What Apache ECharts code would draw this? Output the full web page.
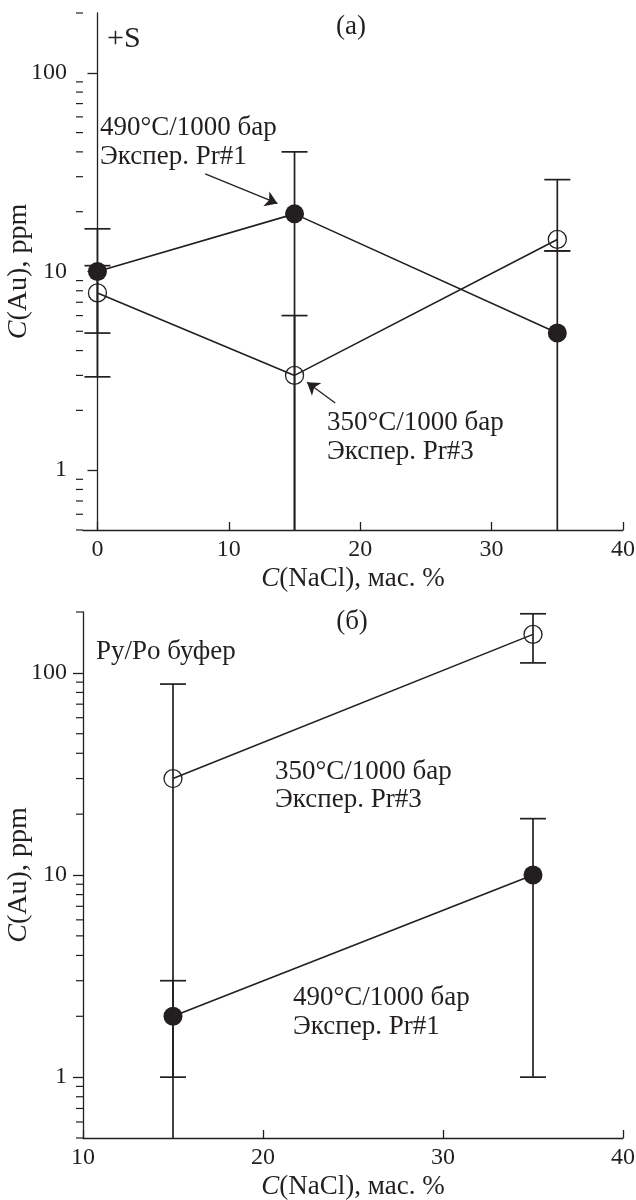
<!DOCTYPE html>
<html>
<head>
<meta charset="utf-8">
<script src="https://cdn.jsdelivr.net/npm/echarts@6/dist/echarts.min.js"></script>
<style>
  html, body { margin: 0; padding: 0; background: #fff; }
  #chart { width: 636px; height: 1200px; }
</style>
</head>
<body>
<div id="chart"></div>
<script>
// (а) +S
const naclA = [0, 15, 35];
const au490A = [10, 19.5, 4.9];
const au490ALow = [4.9, 0.1, 0.1];
const au490AHigh = [16.4, 40, 12.7];
const au350A = [7.8, 3, 14.5];
const au350ALow = [2.95, 0.1, 12.7];
const au350AHigh = [10.7, 6, 29];

// (б) Py/Po буфер
const naclB = [15, 35];
const au490B = [2, 10];
const au490BLow = [1, 1];
const au490BHigh = [3, 19];
const au350B = [30, 155];
const au350BLow = [0.1, 112];
const au350BHigh = [88, 196];

// малые деления лог. оси
const minorTicks = [0.5, 0.6, 0.7, 0.8, 0.9, 2, 3, 4, 5, 6, 7, 8, 9, 20, 30, 40, 50, 60, 70, 80, 90, 200];

const INK = '#231f20';
const FONT = '"Liberation Serif", "DejaVu Serif", serif';
const Y_MIN = 0.5;
const Y_MAX = 200;

function zip(xs, ys) {
  return xs.map((x, i) => [x, ys[i]]);
}
function errRows(xs, lo, hi) {
  return xs.map((x, i) => [x, lo[i], hi[i]]);
}

function errorBarItem(params, api) {
  const x = api.value(0);
  const lo = api.value(1);
  const hi = api.value(2);
  const cs = params.coordSys;
  const top = api.coord([x, hi]);
  let bot;
  let capBot = true;
  if (lo < Y_MIN) {
    bot = [top[0], cs.y + cs.height];
    capBot = false;
  } else {
    bot = api.coord([x, lo]);
  }
  const w = 13;
  const style = { stroke: INK, lineWidth: 1.7 };
  const children = [
    { type: 'line', shape: { x1: top[0], y1: top[1], x2: bot[0], y2: bot[1] }, style: style },
    { type: 'line', shape: { x1: top[0] - w, y1: top[1], x2: top[0] + w, y2: top[1] }, style: style }
  ];
  if (capBot) {
    children.push({ type: 'line', shape: { x1: bot[0] - w, y1: bot[1], x2: bot[0] + w, y2: bot[1] }, style: style });
  }
  return { type: 'group', children: children };
}

function minorTickItem(params, api) {
  const y = api.coord([api.value(0), api.value(1)])[1];
  const x0 = params.coordSys.x;
  return {
    type: 'line',
    shape: { x1: x0 - 7, y1: y, x2: x0, y2: y },
    style: { stroke: INK, lineWidth: 1.2 }
  };
}

function xAxisOpt(idx, min, max, interval) {
  const ax = {
    type: 'value',
    gridIndex: idx,
    min: min,
    max: max,
    name: '{i|C}(NaCl), мас. %',
    nameLocation: 'middle',
    nameGap: 35,
    nameTextStyle: {
      color: INK, fontFamily: FONT, fontSize: 27,
      rich: { i: { fontStyle: 'italic', fontFamily: FONT, fontSize: 27, color: INK } }
    },
    splitLine: { show: false },
    axisLine: { lineStyle: { color: INK, width: 1.3 } },
    axisTick: { inside: true, length: 8, lineStyle: { color: INK, width: 1.3 } },
    axisLabel: {
      color: INK, fontFamily: FONT, fontSize: 24, margin: 8,
      showMinLabel: min === 10, showMaxLabel: true
    }
  };
  if (interval) ax.interval = interval;
  return ax;
}

function yAxisOpt(idx) {
  return {
    type: 'log',
    logBase: 10,
    gridIndex: idx,
    min: Y_MIN,
    max: Y_MAX,
    name: '{i|C}(Au), ppm',
    nameLocation: 'middle',
    nameGap: 50,
    nameMoveOverlap: false,
    nameTextStyle: {
      color: INK, fontFamily: FONT, fontSize: 28,
      rich: { i: { fontStyle: 'italic', fontFamily: FONT, fontSize: 28, color: INK } }
    },
    splitLine: { show: false },
    axisLine: { lineStyle: { color: INK, width: 1.3 } },
    axisTick: { inside: false, length: 10, lineStyle: { color: INK, width: 1.3 } },
    axisLabel: {
      color: INK, fontFamily: FONT, fontSize: 24, margin: 16,
      showMinLabel: false, showMaxLabel: false
    }
  };
}

const filledStyle = { color: INK };
const openStyle = { color: 'rgba(0,0,0,0)', borderColor: INK, borderWidth: 1.3 };

function lineSeries(gi, data, filled, markLine) {
  const s = {
    type: 'line',
    xAxisIndex: gi,
    yAxisIndex: gi,
    data: data,
    symbol: 'circle',
    symbolSize: filled ? 19 : 18,
    itemStyle: filled ? filledStyle : openStyle,
    lineStyle: { color: INK, width: 1.6 },
    z: 3
  };
  if (markLine) s.markLine = markLine;
  return s;
}

function arrow(from, to) {
  return {
    silent: true,
    symbol: ['none', 'arrow'],
    symbolSize: 12,
    label: { show: false },
    itemStyle: { color: INK },
    lineStyle: { color: INK, width: 1.3, type: 'solid' },
    data: [[{ coord: from }, { coord: to }]]
  };
}

function textEl(str, x, y, align, size) {
  return {
    type: 'text',
    x: x,
    y: y,
    style: {
      text: str,
      font: (size || 27) + 'px ' + FONT,
      fill: INK,
      align: align || 'left',
      verticalAlign: 'middle'
    }
  };
}

const dom = document.getElementById('chart');
const myChart = echarts.init(dom, null, { renderer: 'canvas' });

const option = {
  animation: false,
  backgroundColor: '#ffffff',
  grid: [
    { left: 83, right: 13, top: 13, height: 517, containLabel: false, outerBoundsMode: 'none' },
    { left: 83, right: 13, top: 612, height: 526, containLabel: false, outerBoundsMode: 'none' }
  ],
  xAxis: [xAxisOpt(0, -1.1, 40), xAxisOpt(1, 10, 40, 10)],
  yAxis: [yAxisOpt(0), yAxisOpt(1)],
  series: [
    {
      type: 'custom', xAxisIndex: 0, yAxisIndex: 0, silent: true, z: 2,
      renderItem: errorBarItem,
      data: errRows(naclA, au490ALow, au490AHigh).concat(errRows(naclA, au350ALow, au350AHigh))
    },
    lineSeries(0, zip(naclA, au490A), true, arrow([8.2, 31], [13.7, 22])),
    lineSeries(0, zip(naclA, au350A), false, arrow([18.1, 2.18], [15.95, 2.77])),
    {
      type: 'custom', xAxisIndex: 0, yAxisIndex: 0, silent: true, clip: false,
      renderItem: minorTickItem,
      data: minorTicks.map(v => [naclA[1], v])
    },
    {
      type: 'custom', xAxisIndex: 1, yAxisIndex: 1, silent: true, z: 2,
      renderItem: errorBarItem,
      data: errRows(naclB, au490BLow, au490BHigh).concat(errRows(naclB, au350BLow, au350BHigh))
    },
    lineSeries(1, zip(naclB, au490B), true),
    lineSeries(1, zip(naclB, au350B), false),
    {
      type: 'custom', xAxisIndex: 1, yAxisIndex: 1, silent: true, clip: false,
      renderItem: minorTickItem,
      data: minorTicks.map(v => [naclB[0], v])
    }
  ],
  graphic: [
    textEl('(а)', 351, 27, 'center'),
    textEl('+S', 107, 39, 'left', 30),
    textEl('490°C/1000 бар', 100, 128),
    textEl('Экспер. Pr#1', 100, 157),
    textEl('350°C/1000 бар', 327, 423),
    textEl('Экспер. Pr#3', 327, 452),
    textEl('(б)', 352, 622, 'center'),
    textEl('Py/Po буфер', 96, 652),
    textEl('350°C/1000 бар', 275, 772),
    textEl('Экспер. Pr#3', 275, 800),
    textEl('490°C/1000 бар', 293, 998),
    textEl('Экспер. Pr#1', 293, 1027)
  ]
};

myChart.setOption(option);
window.addEventListener('resize', myChart.resize);
</script>
</body>
</html>
